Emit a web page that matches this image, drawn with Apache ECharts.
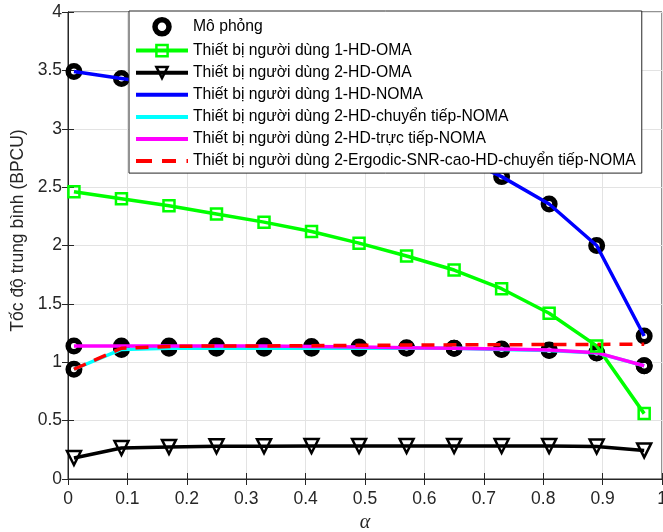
<!DOCTYPE html>
<html>
<head>
<meta charset="utf-8">
<script src="https://cdn.jsdelivr.net/npm/echarts@6/dist/echarts.min.js"></script>
<style>html,body{margin:0;padding:0;background:#fff}#c{width:663px;height:532px}</style>
</head>
<body>
<div id="c"></div>
<script>
var alphaVals = [0.01, 0.09, 0.17, 0.25, 0.33, 0.41, 0.49, 0.57, 0.65, 0.73, 0.81, 0.89, 0.97];
var user1OMA = [2.46, 2.40, 2.34, 2.27, 2.20, 2.12, 2.02, 1.91, 1.79, 1.63, 1.42, 1.14, 0.56];
var user2OMA = [0.18, 0.265, 0.275, 0.28, 0.28, 0.282, 0.283, 0.283, 0.283, 0.283, 0.282, 0.278, 0.245];
var user1NOMA = [3.49, 3.43, 3.37, 3.30, 3.22, 3.13, 3.03, 2.92, 2.78, 2.59, 2.355, 2.0, 1.225];
var user2Relay = [0.94, 1.11, 1.12, 1.12, 1.12, 1.12, 1.12, 1.12, 1.12, 1.11, 1.10, 1.08, 0.97];
var user2Direct = [1.14, 1.14, 1.14, 1.14, 1.14, 1.135, 1.13, 1.125, 1.12, 1.113, 1.105, 1.082, 0.97];
var user2Ergodic = [0.94, 1.12, 1.135, 1.14, 1.14, 1.142, 1.145, 1.147, 1.149, 1.15, 1.152, 1.153, 1.155];
var xTicks = ['0', '0.1', '0.2', '0.3', '0.4', '0.5', '0.6', '0.7', '0.8', '0.9', '1'];
var yTicks = ['0', '0.5', '1', '1.5', '2', '2.5', '3', '3.5', '4'];

var names = ['Mô phỏng', 'Thiết bị người dùng 1-HD-OMA', 'Thiết bị người dùng 2-HD-OMA',
  'Thiết bị người dùng 1-HD-NOMA', 'Thiết bị người dùng 2-HD-chuyển tiếp-NOMA',
  'Thiết bị người dùng 2-HD-trực tiếp-NOMA', 'Thiết bị người dùng 2-Ergodic-SNR-cao-HD-chuyển tiếp-NOMA'];

function pairs(ys) { return alphaVals.map(function (x, i) { return [x, ys[i]]; }); }
var simData = pairs(user1NOMA).concat(pairs(user2Direct)).concat(pairs(user2Relay));

var lineIcon = 'path://M0,0H52V4H0Z';
var dashIcon = 'path://M0,0H16V4H0Z M26,0H40V4H26Z M50.5,0H52V4H50.5Z';
var FONT = '"Liberation Sans", Arial, sans-serif';

var chart = echarts.init(document.getElementById('c'), null, {renderer: 'canvas'});
chart.setOption({
  animation: false,
  backgroundColor: '#fff',
  grid: {left: 68, right: 1, top: 12, bottom: 53, show: true, borderColor: '#262626', borderWidth: 1,
    backgroundColor: 'transparent', containLabel: false, outerBoundsMode: 'none'},
  legend: {
    orient: 'vertical', left: 129, top: 11,
    padding: [6, 6, 4, 5],
    itemWidth: 52, itemHeight: 14, itemGap: 6.1,
    backgroundColor: '#fff', borderColor: '#262626', borderWidth: 1, borderRadius: 0,
    textStyle: {fontFamily: FONT, fontSize: 15.7, color: '#000', padding: [0, 0, 0, 0]},
    lineStyle: {width: 4},
    itemStyle: {borderWidth: 'inherit'},
    selectedMode: false,
    data: [
      {name: names[0]},
      {name: names[1]},
      {name: names[2]},
      {name: names[3], icon: lineIcon},
      {name: names[4], icon: lineIcon},
      {name: names[5], icon: lineIcon},
      {name: names[6], icon: dashIcon}
    ]
  },
  xAxis: [{
    type: 'value', min: 0, max: 1, interval: 0.1,
    name: 'α', nameLocation: 'middle', nameGap: 34,
    nameTextStyle: {fontFamily: '"Liberation Serif", "DejaVu Serif", serif', fontStyle: 'italic', fontSize: 20, color: '#262626'},
    axisLine: {show: true, onZero: false, lineStyle: {color: '#262626', width: 1}},
    axisTick: {show: true, inside: true, length: 6, lineStyle: {color: '#262626'}},
    axisLabel: {fontFamily: FONT, fontSize: 17.5, color: '#262626', margin: 11,
      formatter: function (v) { return xTicks[Math.round(v * 10)]; }},
    splitLine: {show: true, lineStyle: {color: '#e3e3e3', width: 1}}
  }, {
    type: 'value', min: 0, max: 1, interval: 0.1, position: 'top',
    axisLine: {show: true, lineStyle: {color: '#262626'}},
    axisTick: {show: true, inside: true, length: 6, lineStyle: {color: '#262626'}},
    axisLabel: {show: false}, splitLine: {show: false}
  }],
  yAxis: [{
    type: 'value', min: 0, max: 4, interval: 0.5,
    name: 'Tốc độ trung bình (BPCU)', nameLocation: 'middle', nameGap: 41,
    nameTextStyle: {fontFamily: FONT, fontSize: 17.5, color: '#262626', padding: [0, 0, 0, 30]},
    axisLine: {show: true, onZero: false, lineStyle: {color: '#262626', width: 1}},
    axisTick: {show: true, inside: true, length: 6, lineStyle: {color: '#262626'}},
    axisLabel: {fontFamily: FONT, fontSize: 17.5, color: '#262626', margin: 6,
      formatter: function (v) { return yTicks[Math.round(v * 2)]; }},
    splitLine: {show: true, lineStyle: {color: '#e3e3e3', width: 1}}
  }, {
    type: 'value', min: 0, max: 4, interval: 0.5, position: 'right',
    axisLine: {show: true, lineStyle: {color: '#262626'}},
    axisTick: {show: true, inside: true, length: 6, lineStyle: {color: '#262626'}},
    axisLabel: {show: false}, splitLine: {show: false}
  }],
  series: [
    {
      name: names[0], type: 'scatter', data: simData, symbol: 'circle', symbolSize: 11.5,
      itemStyle: {color: 'transparent', borderColor: '#000', borderWidth: 5.5, opacity: 1}, z: 2
    },
    {
      name: names[1], type: 'line', data: pairs(user1OMA), symbol: 'rect', symbolSize: 11, showAllSymbol: true,
      lineStyle: {color: '#00ff00', width: 3.5},
      itemStyle: {color: 'transparent', borderColor: '#00ff00', borderWidth: 2.5}, z: 3
    },
    {
      name: names[2], type: 'line', data: pairs(user2OMA), symbol: 'triangle', symbolRotate: 180, symbolSize: 14, showAllSymbol: true,
      lineStyle: {color: '#000', width: 3.5},
      itemStyle: {color: 'transparent', borderColor: '#000', borderWidth: 2.5}, z: 3
    },
    {
      name: names[3], type: 'line', data: pairs(user1NOMA), symbol: 'none',
      lineStyle: {color: '#0000ff', width: 3.5}, itemStyle: {color: '#0000ff'}, z: 3
    },
    {
      name: names[4], type: 'line', data: pairs(user2Relay), symbol: 'none',
      lineStyle: {color: '#00ffff', width: 3.5}, itemStyle: {color: '#00ffff'}, z: 3
    },
    {
      name: names[5], type: 'line', data: pairs(user2Direct), symbol: 'none',
      lineStyle: {color: '#ff00ff', width: 3.5}, itemStyle: {color: '#ff00ff'}, z: 3
    },
    {
      name: names[6], type: 'line', data: pairs(user2Ergodic), symbol: 'none',
      lineStyle: {color: '#ff0000', width: 3.5, type: [13, 9]}, itemStyle: {color: '#ff0000'}, z: 3
    }
  ]
});
</script>
</body>
</html>
